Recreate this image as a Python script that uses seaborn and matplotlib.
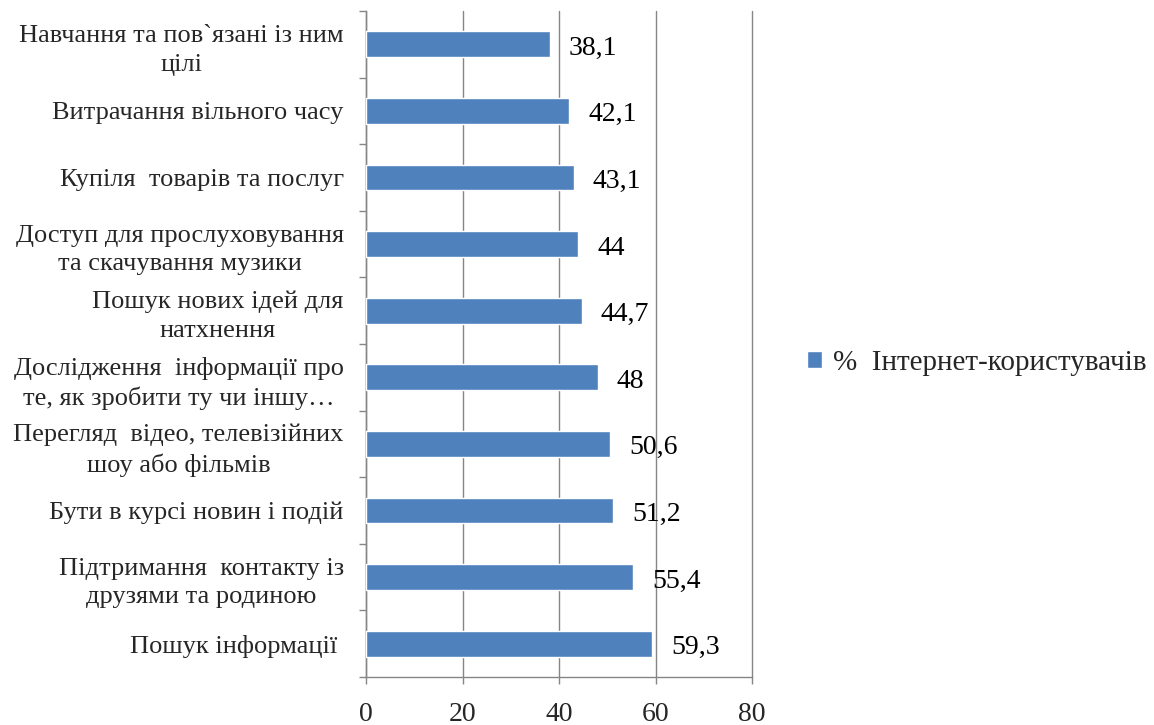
import matplotlib
matplotlib.use("Agg")
import matplotlib.pyplot as plt
import seaborn as sns
import pandas as pd

categories = [
    "Навчання та пов`язані із ним\nцілі",
    "Витрачання вільного часу",
    "Купіля  товарів та послуг",
    "Доступ для прослуховування\nта скачування музики",
    "Пошук нових ідей для\nнатхнення",
    "Дослідження  інформації про\nте, як зробити ту чи іншу…",
    "Перегляд  відео, телевізійних\nшоу або фільмів",
    "Бути в курсі новин і подій",
    "Підтримання  контакту із\nдрузями та родиною",
    "Пошук інформації ",
]
values = [38.1, 42.1, 43.1, 44, 44.7, 48, 50.6, 51.2, 55.4, 59.3]
series_name = "%  Інтернет-користувачів"
x_ticks = [0, 20, 40, 60, 80]

sns.set_style("white")
plt.rcParams["font.family"] = ["Liberation Serif", "DejaVu Serif"]

df = pd.DataFrame({"cat": categories, "val": values})

fig = plt.figure(figsize=(11.54, 7.25), dpi=100)
ax = fig.add_axes([366 / 1154, 1 - 677 / 725, (752 - 366) / 1154, (677 - 11) / 725])

BAR = "#4F81BD"
GRID = "#868686"

sns.barplot(data=df, x="val", y="cat", orient="h", color=BAR, saturation=1,
            width=0.39, ax=ax, label=series_name, zorder=3)

ax.set_xlim(0, 80)
ax.set_ylim(len(categories) - 0.5, -0.5)
ax.set_xticks(x_ticks)
ax.set_xticklabels([str(t) for t in x_ticks], fontsize=20)
ax.set_xlabel("")
ax.set_ylabel("")

# category labels centered on bands, ticks at boundaries
ax.set_yticks(range(len(categories)))
ax.set_yticklabels(categories, fontsize=19, linespacing=1.4, multialignment="center")
ax.tick_params(axis="y", which="major", length=0, pad=16)
ax.set_yticks([i - 0.5 for i in range(len(categories) + 1)], minor=True)
ax.tick_params(axis="y", which="minor", length=5, width=1, color=GRID, left=True)
ax.tick_params(axis="x", length=5, width=1, color=GRID, pad=13, bottom=True)

for s in ["top", "right"]:
    ax.spines[s].set_visible(False)
for s in ["left", "bottom"]:
    ax.spines[s].set_color(GRID)
    ax.spines[s].set_linewidth(1)

ax.xaxis.grid(True, color=GRID, linewidth=1, zorder=0)
ax.yaxis.grid(False)
ax.set_axisbelow(True)
for gl in ax.get_xgridlines():
    gl.set_clip_on(False)

for i, v in enumerate(values):
    lab = f"{v:g}".replace(".", ",")
    ax.annotate(lab, xy=(v, i), xytext=(19, -4), textcoords="offset pixels",
                ha="left", va="center", fontsize=20, color="black")

handles, labels = ax.get_legend_handles_labels()
if ax.get_legend() is not None:
    ax.get_legend().remove()
fig.legend(handles, labels, loc="center left",
           bbox_to_anchor=(807 / 1154, 1 - 363 / 725),
           frameon=False, fontsize=21, handlelength=0.5, handleheight=0.5,
           handletextpad=0.4, borderpad=0, borderaxespad=0)

fig.savefig("out.png", dpi=100)
